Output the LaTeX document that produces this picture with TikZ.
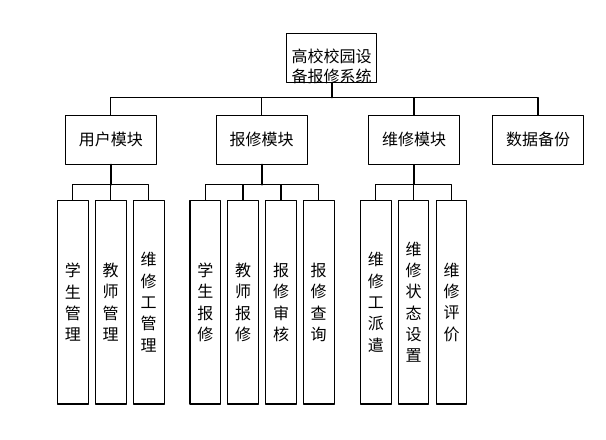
\documentclass[tikz,border=0pt]{standalone}
\usepackage{fontspec}
\newfontfamily\cjk{Noto Sans CJK SC}

\begin{document}
\begin{tikzpicture}[line cap=round,line join=round,x=0.75pt,y=-0.75pt,
  box/.style={draw,line width=0.8pt,inner sep=0pt,font=\cjk\fontsize{12}{15}\selectfont},
  modbox/.style={box,minimum width=68pt,minimum height=36.4pt},
  leaf/.style={box,minimum width=23pt,minimum height=152.5pt,align=center,font=\cjk\fontsize{12}{16}\selectfont},
  link/.style={line width=0.8pt},
  trunk/.style={line width=1.4pt}]
\useasboundingbox (0,0) rectangle (606,439);

%juuri
\node[box,minimum width=67.5pt,minimum height=36.75pt,
  label={[name=roottxt,align=center,yshift=-6.7pt,font=\cjk\fontsize{12}{15}\selectfont]center:高校校园设\\备报修系统}] (root) at (331.7,57.8) {};

%moduulit
\node[modbox] (usr) at (110.9,139.8) {用户模块};
\node[modbox] (rep) at (261.7,139.8) {报修模块};
\node[modbox] (fix) at (414,139.8) {维修模块};
\node[modbox] (bak) at (538,139.8) {数据备份};

%lehdet
\foreach \n/\x/\t in {u1/72.8/{学\\生\\管\\理},u2/110.7/{教\\师\\管\\理},u3/148.7/{维\\修\\工\\管\\理},
  r1/205.3/{学\\生\\报\\修},r2/243/{教\\师\\报\\修},r3/281/{报\\修\\审\\核},r4/318.7/{报\\修\\查\\询},
  f1/375.9/{维\\修\\工\\派\\遣},f2/413.5/{维\\修\\状\\态\\设\\置},f3/451.5/{维\\修\\评\\价}}
{
\node[leaf] (\n) at (\x,302.3) {\t};
}

%viivat juuresta
\draw[trunk] (root.south) -- ++(0,14.7) coordinate (rb);
\foreach \m in {usr,rep,fix,bak}
{
\draw[link] (rb) -| (\m.north);
}

%viivat moduuleista
\draw[trunk] (usr.south) -- ++(0,20) coordinate (ub);
\foreach \c in {u1,u2,u3}
{
\draw[link] (ub) -| (\c.north);
}
\draw[trunk] (rep.south) -- ++(0,20) coordinate (pb);
\foreach \c in {r1,r2,r3,r4}
{
\draw[link] (pb) -| (\c.north);
}
\draw[link] (fix.south) -- ++(0,20) coordinate (fb);
\foreach \c in {f1,f2,f3}
{
\draw[link] (fb) -| (\c.north);
}
\end{tikzpicture}
\end{document}
